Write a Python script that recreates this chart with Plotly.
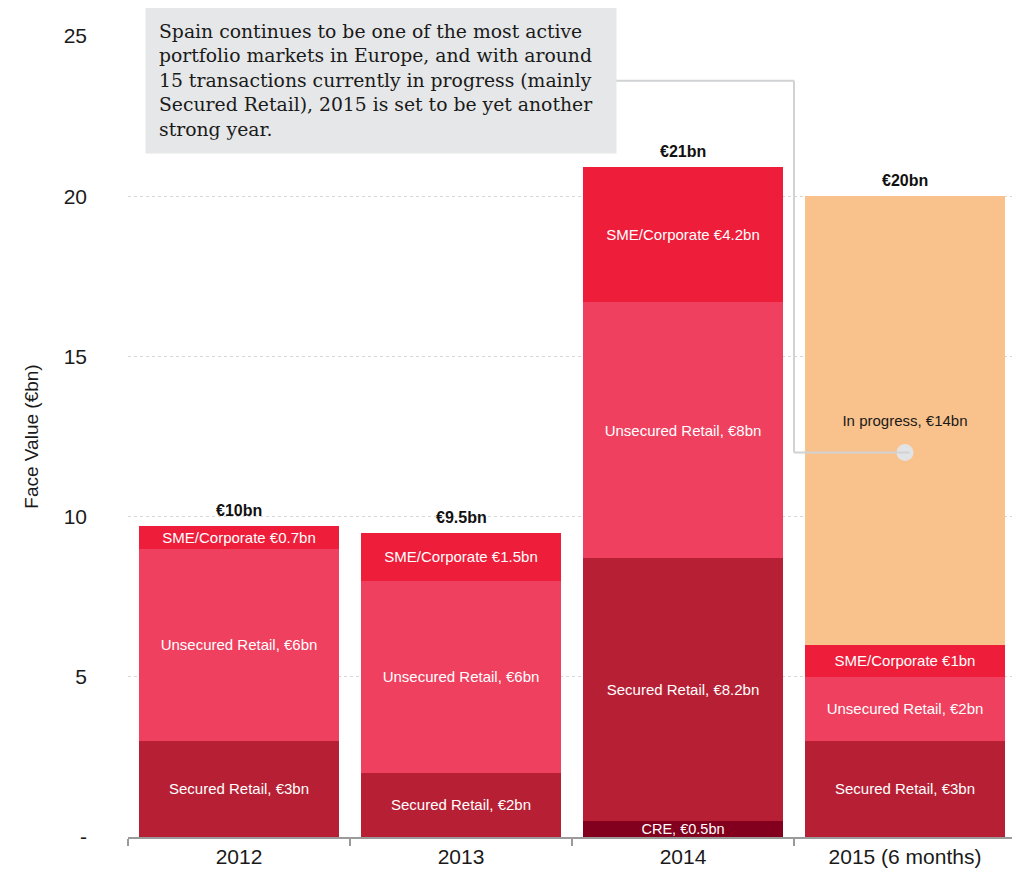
"""
Spain portfolio transactions by asset class, stacked bars with Plotly.
"""

import plotly.graph_objects as go

years = ['2012', '2013', '2014', '2015 (6 months)']

# face value by asset class (€bn), None where the class is absent
cre = [None, None, 0.5, None]
secured_retail = [3, 2, 8.2, 3]
unsecured_retail = [6, 6, 8, 2]
sme_corporate = [0.7, 1.5, 4.2, 1]
in_progress = [None, None, None, 14]

total_labels = ['€10bn', '€9.5bn', '€21bn', '€20bn']

y_ticks = [0, 5, 10, 15, 20, 25]
y_tick_labels = ['-', '5', '10', '15', '20', '25']

note = ('Spain continues to be one of the most active<br>'
        'portfolio markets in Europe, and with around<br>'
        '15 transactions currently in progress (mainly<br>'
        'Secured Retail), 2015 is set to be yet another<br>'
        'strong year.')

SANS = 'Liberation Sans, Arial, Helvetica, sans-serif'


def make_labels(values, template):
    return [template.format(v=v) if v is not None else '' for v in values]


series = [
    ('CRE', cre, '#82001d', 'CRE, €{v:g}bn', 'white', 14.5),
    ('Secured Retail', secured_retail, '#b72034', 'Secured Retail, €{v:g}bn', 'white', 15),
    ('Unsecured Retail', unsecured_retail, '#ef4060', 'Unsecured Retail, €{v:g}bn', 'white', 15),
    ('SME/Corporate', sme_corporate, '#ee1d3a', 'SME/Corporate €{v:g}bn', 'white', 15),
    ('In progress', in_progress, '#f9c28c', 'In progress, €{v:g}bn', '#1a1a1a', 15),
]

fig = go.Figure()

for name, values, color, template, text_color, size in series:
    fig.add_trace(go.Bar(
        x=years,
        y=values,
        name=name,
        marker=dict(color=color, line=dict(width=0)),
        text=make_labels(values, template),
        textposition='inside',
        insidetextanchor='middle',
        constraintext='none',
        textfont=dict(family=SANS, size=size, color=text_color),
        hoverinfo='skip',
    ))

# totals on top of each stack (x given as category index)
totals = [sum(v[i] or 0 for _, v, *_ in series) for i in range(len(years))]
for i, (total, label) in enumerate(zip(totals, total_labels)):
    fig.add_annotation(
        x=i, y=total,
        text='<b>' + label + '</b>',
        showarrow=False,
        yanchor='bottom',
        yshift=5,
        font=dict(family=SANS, size=16, color='#111111'),
    )

# callout dot inside the in-progress block
fig.add_trace(go.Scatter(
    x=[years[3]],
    y=[12],
    mode='markers',
    marker=dict(size=17, color='#e2e3e5'),
    hoverinfo='skip',
    showlegend=False,
))

# connector from the note to the dot
line_style = dict(color='#d1d2d4', width=2)
fig.add_shape(type='line', xref='x', yref='y', x0=1.667, x1=2.5, y0=23.6, y1=23.6,
              line=line_style, layer='above')
fig.add_shape(type='line', xref='x', yref='y', x0=2.5, x1=2.5, y0=23.6, y1=12,
              line=line_style, layer='above')
fig.add_shape(type='line', xref='x', yref='y', x0=2.5, x1=3.02, y0=12, y1=12,
              line=line_style, layer='above')

fig.add_annotation(
    text=note,
    xref='paper', yref='paper',
    x=0.0191, y=1.036,
    xanchor='left', yanchor='top',
    align='left',
    showarrow=False,
    width=444,
    bgcolor='#e6e7e8',
    borderpad=13,
    font=dict(family='DejaVu Serif, Georgia, serif', size=18.8, color='#1a1a1a'),
)

# the page body adds an 8px margin, so the figure is 16px smaller than the window
fig.update_layout(
    barmode='stack',
    bargap=0.1,
    width=1012,
    height=865,
    margin=dict(l=120, r=4, t=28, b=36),
    plot_bgcolor='white',
    paper_bgcolor='white',
    showlegend=False,
    hovermode=False,
    font=dict(family=SANS, color='#1a1a1a'),
)

fig.update_xaxes(
    type='category',
    categoryorder='array',
    categoryarray=years,
    range=[-0.5, len(years) - 0.5],
    showgrid=False,
    showline=True,
    linecolor='#9a9a9a',
    linewidth=2,
    ticks='outside',
    tickson='boundaries',
    ticklen=7,
    tickwidth=2,
    tickcolor='#9a9a9a',
    tickfont=dict(family=SANS, size=21, color='#1a1a1a'),
)

fig.update_yaxes(
    range=[0, 25],
    tickvals=y_ticks,
    ticktext=y_tick_labels,
    showgrid=True,
    gridcolor='#d6d6d6',
    griddash='dot',
    gridwidth=1,
    zeroline=False,
    showline=False,
    ticks='',
    ticklabelstandoff=40,
    tickfont=dict(family=SANS, size=21, color='#1a1a1a'),
    title=dict(text='Face Value (€bn)', standoff=19,
               font=dict(family=SANS, size=19, color='#1a1a1a')),
)

fig.write_html("out.html")
